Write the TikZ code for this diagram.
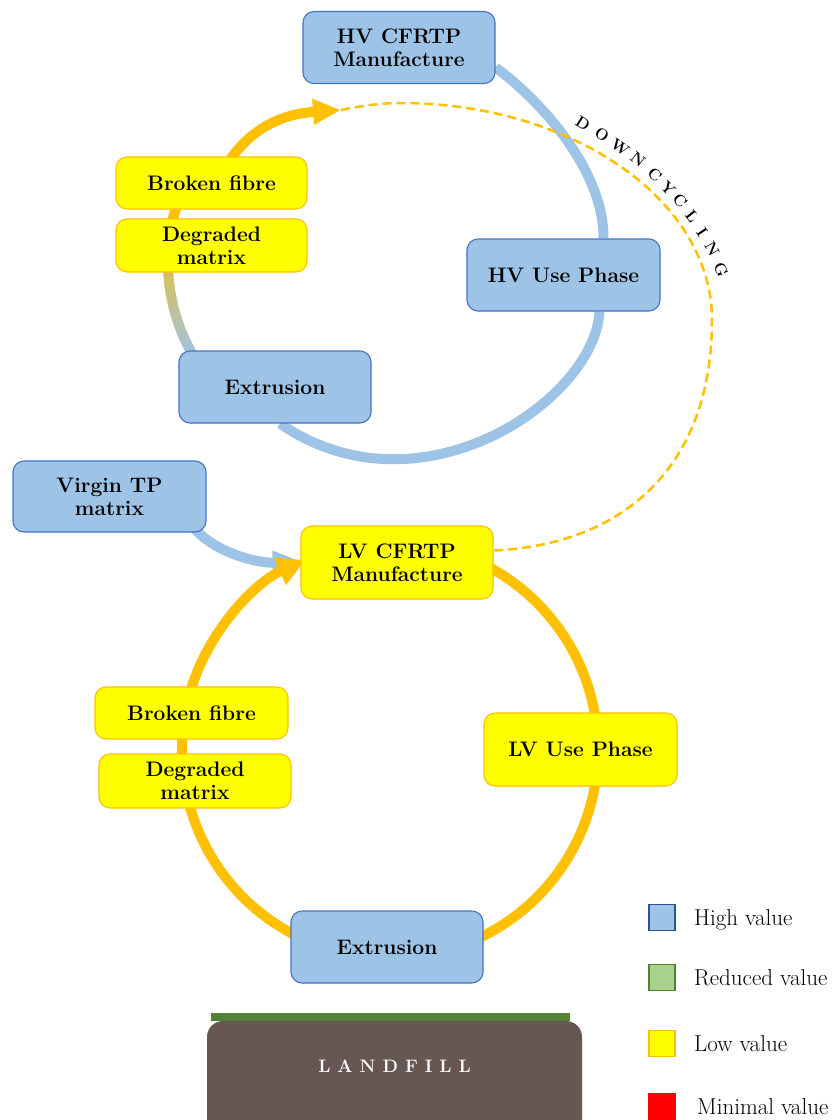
\documentclass[tikz,border=0pt]{standalone}
\usepackage{fontspec}
\usetikzlibrary{arrows.meta,backgrounds,calc}

\definecolor{hvblue}{RGB}{157,195,230}
\definecolor{hvedge}{RGB}{68,114,196}
\definecolor{lvyellow}{RGB}{255,255,0}
\definecolor{orng}{RGB}{255,192,0}
\definecolor{soil}{RGB}{103,87,83}
\definecolor{grass}{RGB}{84,130,53}
\definecolor{redval}{RGB}{255,0,0}
\definecolor{greenval}{RGB}{169,209,142}
\definecolor{legblueedge}{RGB}{47,82,143}

\tikzset{
  box/.style={rounded corners=11pt, minimum width=192pt, minimum height=72pt,
    align=center, inner sep=2pt, font=\fontsize{21}{23}\selectfont\bfseries},
  hvbox/.style={box, fill=hvblue, draw=hvedge, line width=1.1pt},
  lvbox/.style={box, fill=lvyellow, draw=orng, line width=1.1pt},
  flow/.style={line width=10pt},
  legsq/.style={minimum size=26pt, inner sep=0pt, line width=1.2pt},
  legtext/.style={anchor=base west, inner sep=0pt, font=\fontsize{23}{26}\selectfont},
  dcletter/.style={inner sep=0pt, font=\fontsize{16}{18}\selectfont\bfseries}
}

\begin{document}
\begin{tikzpicture}[x=1pt, y=1pt]
\useasboundingbox (0,0) rectangle (835,-1120);

% ---------- process boxes ----------
\node[hvbox] (HVm) at (399,-47.5) {HV CFRTP\\Manufacture};
\node[lvbox, minimum width=191pt, minimum height=52pt] (BF1) at (211.5,-183) {Broken fibre};
\node[lvbox, minimum width=191pt, minimum height=53pt] (DM1) at (211.5,-245.5) {Degraded\\matrix};
\node[hvbox, minimum width=193pt] (HVu) at (563.5,-275) {HV Use Phase};
\node[hvbox] (HVx) at (275,-387) {Extrusion};
\node[hvbox, minimum width=193pt, minimum height=71pt] (VTP) at (109.5,-496.5) {Virgin TP\\matrix};
\node[lvbox, minimum height=73pt] (LVm) at (397,-562.5) {LV CFRTP\\Manufacture};
\node[lvbox, minimum width=193pt, minimum height=52pt] (BF2) at (191.5,-713) {Broken fibre};
\node[lvbox, minimum height=54pt] (DM2) at (195,-781) {Degraded\\matrix};
\node[lvbox, minimum width=193pt, minimum height=73pt] (LVu) at (580.5,-749.5) {LV Use Phase};
\node[hvbox] (LVx) at (387,-947) {Extrusion};

% ---------- downcycling label, letter by letter along the dashed route ----------
\foreach \ch/\px/\py/\rot [count=\i] in {
    D/583/123/-32, O/602/135/-33, W/620/147/-35, N/638/160/-38,
    C/655/175/-42, Y/668/188/-45, C/680/201/-48, L/692/216/-52,
    I/702/232/-56, N/712/249/-61, G/721/270/-66}{
  \node[dcletter, rotate=\rot] (dc\i) at (\px,-\py) {\ch};
}

% ---------- landfill ----------
\fill[grass] (211,-1013) rectangle (570,-1021);
\fill[soil, rounded corners=16pt] (207,-1021) rectangle (582,-1160);
\node[text=white, font=\fontsize{18}{20}\selectfont\bfseries] (lf) at (394.5,-1066)
  {L\hspace{7pt}A\hspace{7pt}N\hspace{7pt}D\hspace{7pt}F\hspace{7pt}I\hspace{7pt}L\hspace{7pt}L};

% ---------- legend ----------
\node[legsq, fill=hvblue, draw=legblueedge] (k1) at (662,-917.5) {};
\node[legsq, fill=greenval, draw=grass] (k2) at (662,-977.5) {};
\node[legsq, fill=lvyellow, draw=orng] (k3) at (662,-1043.5) {};
\node[legsq, fill=redval, draw=redval] (k4) at (662,-1106.5) {};
\node[legtext] (t1) at (694,-925) {High value};
\node[legtext] (t2) at (694,-985) {Reduced value};
\node[legtext] (t3) at (694,-1051) {Low value};
\node[legtext] (t4) at (697,-1114) {Minimal value};

% ---------- connectors, behind the boxes ----------
\begin{pgfonlayer}{background}
  \fill[white] (0,0) rectangle (835,-1120);

  \coordinate (O1) at (355,-262);
  \coordinate (O2) at (390,-750);
  \coordinate (dtip) at (341,-110);

  % high value loop
  \draw[flow, hvblue] ([yshift=-20pt]HVm.east) .. controls (540,-100) and (604,-170) .. ([xshift=40pt]HVu.north);
  \draw[flow, hvblue] ([xshift=36pt]HVu.south) .. controls (595,-400) and (420,-520) .. ([xshift=5pt]HVx.south);

  % extrusion back to fibre: value fading from high to low
  \foreach \k in {0,...,23}{
    \pgfmathsetmacro\aS{212-2*\k}
    \pgfmathsetmacro\aE{\aS-2.4}
    \pgfmathtruncatemacro\mix{100*\k/23}
    \draw[line width=10pt, color=orng!\mix!hvblue] ($(O1)+(\aS:187)$) arc[start angle=\aS, end angle=\aE, radius=187];
  }
  \draw[flow, orng] ($(O1)+(166:187)$) arc[start angle=166, end angle=155, radius=187];
  \draw[flow, orng, -{Triangle[length=28pt,width=24pt]}] ([xshift=18pt,yshift=-4pt]BF1.north)
    .. controls (252,-128) and (282,-114) .. (dtip);

  % downcycling route
  \draw[orng, line width=2.5pt, dash pattern=on 9pt off 5pt] (dtip) .. controls (356,-107) and (378,-103) .. (400,-103)
    .. controls (572.3,-103) and (712,-200) .. (712,-320)
    .. controls (712,-470) and (620,-545) .. ([yshift=12pt]LVm.east);

  % virgin matrix input
  \draw[flow, hvblue, -{Triangle[length=32pt,width=22pt]}] ([xshift=-12pt,yshift=4pt]VTP.south east)
    .. controls (215,-552) and (255,-563) .. ([xshift=4pt]LVm.west);

  % low value loop
  \draw[flow, orng] ($(O2)+(64:208)$) arc[start angle=64, end angle=6, radius=208];
  \draw[flow, orng] ($(O2)+(-6:208)$) arc[start angle=-6, end angle=-66, radius=208];
  \draw[flow, orng, -{Triangle[length=28pt,width=28pt]}] ($(O2)+(246:208)$) arc[start angle=246, end angle=114, radius=208];
\end{pgfonlayer}
\end{tikzpicture}
\end{document}
